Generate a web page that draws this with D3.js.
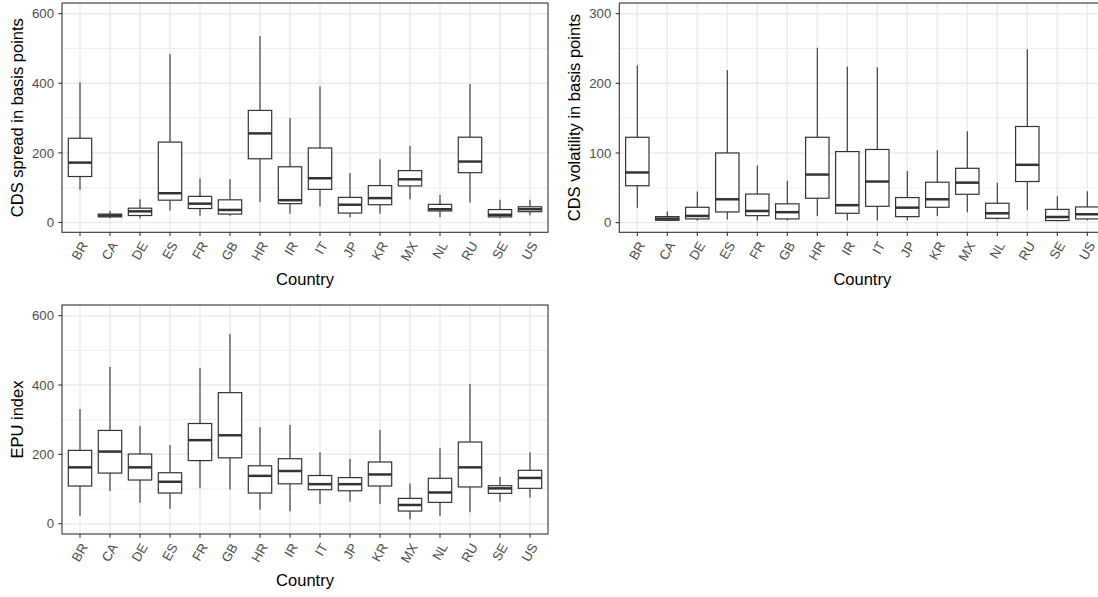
<!DOCTYPE html>
<html>
<head>
<meta charset="utf-8">
<script src="https://cdn.jsdelivr.net/npm/d3@7"></script>
<style>
  html, body { margin: 0; padding: 0; background: #ffffff; }
  svg { display: block; font-family: "Liberation Sans", Arial, sans-serif; }
</style>
</head>
<body>
<svg id="chart" width="1098" height="597"></svg>
<script>
// ---- data (boxplot statistics: [lower whisker, Q1, median, Q3, upper whisker]) ----
const countries = ["BR","CA","DE","ES","FR","GB","HR","IR","IT","JP","KR","MX","NL","RU","SE","US"];

const cdsSpread = [
  [94,132,172,242,402],
  [12,16,20,24,33],
  [12,20,32,41,67],
  [34,64,84,231,484],
  [19,40,54,75,127],
  [19,24,36,65,124],
  [59,183,256,322,536],
  [25,54,64,160,300],
  [46,95,127,214,391],
  [15,27,51,72,142],
  [25,51,70,106,182],
  [67,105,124,149,220],
  [15,33,38,52,79],
  [57,143,175,245,398],
  [12,16,22,37,65],
  [21,31,38,45,65]
];

const cdsVolatility = [
  [21.5,53,72,122.5,226],
  [2.4,3.3,5.7,8.6,16],
  [3,5.3,9.6,22,44.5],
  [4.3,15.3,33.5,100,219],
  [3,10,16.7,41,82],
  [3,5.3,15,27,60],
  [9.6,35,69,122.5,251],
  [3,13.4,25,102,224],
  [3,23.4,59,105,223],
  [3,8.6,21.5,36,74],
  [9.6,22,33.5,58,104],
  [14.8,40.7,57.4,78,131],
  [4.3,6.2,13.4,27.8,57.4],
  [17.7,59,83,138,249],
  [2,3,8.1,19,38],
  [3.3,5.3,12,22.5,45]
];

const epuIndex = [
  [23,108.7,162.5,211.5,331],
  [94,146,208,269,452],
  [60.6,126,162.5,201,282],
  [43,88.5,121,147,227],
  [102,182,241,289,449],
  [99,190,255,378,547],
  [40,88.5,138,167,278],
  [35.6,115,152,187.5,285],
  [57,98,114,139,206],
  [63.5,95,114,133,186.5],
  [57,108.7,142,178,270],
  [12.5,36.5,54,73,116],
  [23,61.5,90,131,219],
  [32.7,106,162.5,235.6,403],
  [63.5,87.5,102,109.6,135.6],
  [75,102,132,154,206]
];

const spreadTicks = [0,200,400,600];
const volatilityTicks = [0,100,200,300];
const epuTicks = [0,200,400,600];

// ---- drawing ----
const svg = d3.select("#chart");
const textGrey = "#4d4d4d";
const dark = "#333333";
const gridCol = "#ebebeb";

function panel(cfg) {
  const {x0, x1, y0, y1, domain, ticks, minorTicks, data, ytitle} = cfg;
  const g = svg.append("g");
  const x = d3.scalePoint().domain(countries).range([x0, x1]).padding(0.6);
  const y = d3.scaleLinear().domain(domain).range([y1, y0]);
  const step = x.step();
  const bw = step * 0.78;

  // grid
  g.selectAll(".minor").data(minorTicks).enter().append("line")
    .attr("x1", x0).attr("x2", x1)
    .attr("y1", d => y(d)).attr("y2", d => y(d))
    .attr("stroke", gridCol).attr("stroke-width", 0.8);
  g.selectAll(".majory").data(ticks).enter().append("line")
    .attr("x1", x0).attr("x2", x1)
    .attr("y1", d => y(d)).attr("y2", d => y(d))
    .attr("stroke", gridCol).attr("stroke-width", 1.5);
  g.selectAll(".majorx").data(countries).enter().append("line")
    .attr("x1", d => x(d)).attr("x2", d => x(d))
    .attr("y1", y0).attr("y2", y1)
    .attr("stroke", gridCol).attr("stroke-width", 1.5);

  // boxes
  const boxes = g.selectAll(".box").data(data.map((v, i) => ({c: countries[i], v})))
    .enter().append("g");
  boxes.append("line")
    .attr("x1", d => x(d.c)).attr("x2", d => x(d.c))
    .attr("y1", d => y(d.v[3])).attr("y2", d => y(d.v[4]))
    .attr("stroke", dark).attr("stroke-width", 1.1);
  boxes.append("line")
    .attr("x1", d => x(d.c)).attr("x2", d => x(d.c))
    .attr("y1", d => y(d.v[0])).attr("y2", d => y(d.v[1]))
    .attr("stroke", dark).attr("stroke-width", 1.1);
  boxes.append("rect")
    .attr("x", d => x(d.c) - bw / 2).attr("width", bw)
    .attr("y", d => y(d.v[3])).attr("height", d => Math.max(0, y(d.v[1]) - y(d.v[3])))
    .attr("fill", "#ffffff").attr("stroke", dark).attr("stroke-width", 1.2);
  boxes.append("line")
    .attr("x1", d => x(d.c) - bw / 2).attr("x2", d => x(d.c) + bw / 2)
    .attr("y1", d => y(d.v[2])).attr("y2", d => y(d.v[2]))
    .attr("stroke", dark).attr("stroke-width", 2.5);

  // border
  g.append("rect").attr("x", x0).attr("y", y0)
    .attr("width", x1 - x0).attr("height", y1 - y0)
    .attr("fill", "none").attr("stroke", dark).attr("stroke-width", 1.1);

  // y axis
  const yAxis = g.append("g");
  yAxis.selectAll("line").data(ticks).enter().append("line")
    .attr("x1", x0 - 3.7).attr("x2", x0)
    .attr("y1", d => y(d)).attr("y2", d => y(d))
    .attr("stroke", dark).attr("stroke-width", 1.1);
  yAxis.selectAll("text").data(ticks).enter().append("text")
    .attr("x", x0 - 8).attr("y", d => y(d)).attr("dy", "0.36em")
    .attr("text-anchor", "end").attr("fill", textGrey)
    .style("font-size", "13.2px").text(d => d);

  // x axis
  const xAxis = g.append("g");
  xAxis.selectAll("line").data(countries).enter().append("line")
    .attr("x1", d => x(d)).attr("x2", d => x(d))
    .attr("y1", y1).attr("y2", y1 + 3.7)
    .attr("stroke", dark).attr("stroke-width", 1.1);
  xAxis.selectAll("text").data(countries).enter().append("text")
    .attr("transform", d => `translate(${x(d)},${y1 + 8})rotate(-60)`)
    .attr("dy", "0.72em")
    .attr("text-anchor", "end").attr("fill", textGrey)
    .style("font-size", "13.2px").text(d => d);

  // titles
  g.append("text")
    .attr("x", (x0 + x1) / 2).attr("y", y1 + 52.3)
    .attr("text-anchor", "middle").attr("fill", "#000")
    .style("font-size", "16.5px").text("Country");
  g.append("text")
    .attr("transform", `translate(${x0 - 39.5},${(y0 + y1) / 2})rotate(-90)`)
    .attr("text-anchor", "middle").attr("fill", "#000")
    .style("font-size", "16.5px").text(ytitle);
}

panel({x0: 62, x1: 548, y0: 3, y1: 232.3, domain: [-28.3, 630.7],
  ticks: spreadTicks, minorTicks: [100,300,500], data: cdsSpread,
  ytitle: "CDS spread in basis points"});
panel({x0: 619.3, x1: 1105.3, y0: 3, y1: 232.3, domain: [-13.9, 315.3],
  ticks: volatilityTicks, minorTicks: [50,150,250], data: cdsVolatility,
  ytitle: "CDS volatility in basis points"});
panel({x0: 62, x1: 548, y0: 305, y1: 534, domain: [-29.7, 630.8],
  ticks: epuTicks, minorTicks: [100,300,500], data: epuIndex,
  ytitle: "EPU index"});
</script>
</body>
</html>
